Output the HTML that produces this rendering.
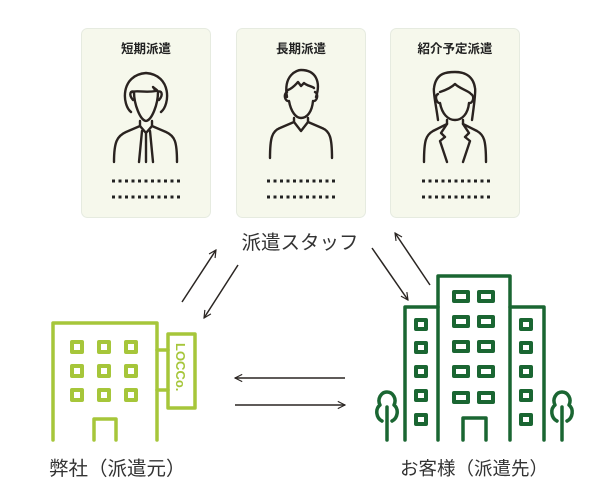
<!DOCTYPE html>
<html><head><meta charset="utf-8"><style>
body{margin:0;background:#fff}
svg{display:block}
text{font-family:"Liberation Sans","Noto Sans CJK JP",sans-serif;fill:#333}
</style></head><body>
<svg width="600" height="500" viewBox="0 0 600 500" xmlns="http://www.w3.org/2000/svg">
<defs>
<marker id="ah" viewBox="0 0 10 10" refX="9" refY="5" markerWidth="9" markerHeight="9" orient="auto" markerUnits="userSpaceOnUse">
<path d="M1,1 L9,5 L1,9" fill="none" stroke="#2a2522" stroke-width="1.3"/>
</marker>
</defs>
<g fill="#f6f8ec" stroke="#e6ebe0" stroke-width="1">
<rect x="81.5" y="28.5" width="129" height="189" rx="6"/>
<rect x="236.5" y="28.5" width="129" height="189" rx="6"/>
<rect x="390.5" y="28.5" width="129" height="189" rx="6"/>
</g>
<g font-size="12.5" font-weight="bold" text-anchor="middle">
<text x="146" y="53" style="fill:#222">短期派遣</text>
<text x="301" y="53" style="fill:#222">長期派遣</text>
<text x="455" y="53" style="fill:#222">紹介予定派遣</text>
</g>
<g stroke="#222" stroke-width="3" stroke-dasharray="3 3.5">
<line x1="112" y1="181" x2="180" y2="181"/><line x1="112" y1="197" x2="180" y2="197"/>
<line x1="267" y1="181" x2="335" y2="181"/><line x1="267" y1="197" x2="335" y2="197"/>
<line x1="422" y1="181" x2="490" y2="181"/><line x1="422" y1="197" x2="490" y2="197"/>
</g>
<g fill="none" stroke="#2a2320" stroke-width="2.4" stroke-linecap="round" stroke-linejoin="round">
<path d="M131,112 C122,105 120,75 146,73 C172,75 170,105 161,112"/>
<path d="M133,100 C128,94 131,90 134,92 C134,104 140,120 146,121 C152,120 158,104 158,92 C161,90 164,94 159,100"/>
<path d="M132,92 C136,90 145,93 156,91 L153,87 C155,89 158,90 158,92"/>
<path d="M140,121 L140,126 L126,132 C117,136 114,142 114,162"/>
<path d="M152,121 L152,126 L166,132 C175,136 177,142 177,162"/>
<path d="M140,126 L146,133 L152,126 M142,131 L139,162 M150,131 L153,162 M146,133 L146,162"/>
<path d="M287,97 C283,75 297,70 301,70 C316,70 321,82 316,97"/>
<path d="M287,92 C283,94 285,102 289,101 C291,112 296,118 301,118 C307,118 312,112 313,101 C317,102 319,94 315,92"/>
<path d="M288,90 C293,88 296,84 298,82 L301,86 L304,83 C307,86 312,86 314,88"/>
<path d="M294,118 L294,122 L280,128 C272,131 270,138 270,158"/>
<path d="M308,118 L308,122 L322,128 C330,131 332,138 332,158"/>
<path d="M294,122 L301,131 L308,122"/>
<path d="M438,120 C436,105 433,92 434,88 C436,72 448,72 455,72 C462,72 473,74 475,88 C476,92 474,105 472,120"/>
<path d="M438,94 C434,96 437,104 440,103 C442,114 448,120 455,120 C462,120 468,114 469,103 C473,104 475,96 471,94"/>
<path d="M440,92 C446,90 452,87 455,84 C459,88 466,90 470,93"/>
<path d="M447,120 L447,124 L433,131 C426,135 424,140 424,162"/>
<path d="M463,120 L463,124 L477,131 C484,135 486,140 486,162"/>
<path d="M447,124 L441,133 L445,137 L440,141 L447,162 M463,124 L469,133 L465,137 L470,141 L463,162"/>
</g>
<text x="300" y="249" font-size="19.5" text-anchor="middle">派遣スタッフ</text>
<g stroke="#2a2522" stroke-width="1.5" marker-end="url(#ah)">
<line x1="182" y1="302" x2="216" y2="250"/>
<line x1="238" y1="265" x2="204" y2="318"/>
<line x1="372" y1="248" x2="408" y2="300"/>
<line x1="430" y1="285" x2="395" y2="233"/>
<line x1="345" y1="378" x2="235" y2="378"/>
<line x1="235" y1="405" x2="345" y2="405"/>
</g>
<g fill="none" stroke="#a6c63a" stroke-width="3.5" stroke-linecap="round" stroke-linejoin="round">
<path d="M53,440 L53,323 L157,323 L157,440"/>
<rect x="168" y="334" width="27" height="74"/>
<line x1="157" y1="350" x2="168" y2="350"/><line x1="157" y1="390" x2="168" y2="390"/>
<path d="M94,440 L94,419 L116,419 L116,440"/>
<g stroke-width="4">
<rect x="72" y="342" width="10" height="10"/><rect x="99" y="342" width="10" height="10"/><rect x="126" y="342" width="10" height="10"/>
<rect x="72" y="366" width="10" height="10"/><rect x="99" y="366" width="10" height="10"/><rect x="126" y="366" width="10" height="10"/>
<rect x="72" y="390" width="10" height="10"/><rect x="99" y="390" width="10" height="10"/><rect x="126" y="390" width="10" height="10"/>
</g>
</g>
<text x="0" y="0" font-size="13" font-weight="bold" transform="translate(176,343) rotate(90)" style="fill:#a6c63a">LOCCo.</text>
<g fill="none" stroke="#1a6632" stroke-width="3.5" stroke-linecap="round" stroke-linejoin="round">
<path d="M438,440 L438,276 L510,276 L510,440"/>
<path d="M405,440 L405,307 L438,307 M510,307 L544,307 L544,440"/>
<path d="M463,440 L463,418 L486,418 L486,440"/>
<g stroke-width="4">
<rect x="454" y="292" width="14" height="9"/><rect x="479" y="292" width="14" height="9"/>
<rect x="454" y="317" width="14" height="9"/><rect x="479" y="317" width="14" height="9"/>
<rect x="454" y="342" width="14" height="9"/><rect x="479" y="342" width="14" height="9"/>
<rect x="454" y="367" width="14" height="9"/><rect x="479" y="367" width="14" height="9"/>
<rect x="454" y="393" width="14" height="9"/><rect x="479" y="393" width="14" height="9"/>
<rect x="416" y="320" width="10" height="9"/><rect x="416" y="343" width="10" height="9"/><rect x="416" y="367" width="10" height="9"/><rect x="416" y="391" width="10" height="9"/><rect x="416" y="415" width="10" height="9"/>
<rect x="521" y="320" width="10" height="9"/><rect x="521" y="343" width="10" height="9"/><rect x="521" y="367" width="10" height="9"/><rect x="521" y="391" width="10" height="9"/><rect x="521" y="415" width="10" height="9"/>
</g>
<path d="M387,440 L387,407 M382,421 C376,418 375,409 380,405 C377,399 381,392 387,392 C393,392 397,399 394,405 C399,409 398,418 392,421"/>
<path d="M562,440 L562,407 M557,421 C551,418 550,409 555,405 C552,399 556,392 562,392 C568,392 572,399 569,405 C574,409 573,418 567,421"/>
</g>
<text x="49" y="475" font-size="19.5">弊社（派遣元）</text>
<text x="400" y="475" font-size="18.5">お客様（派遣先）</text>
</svg>
</body></html>
